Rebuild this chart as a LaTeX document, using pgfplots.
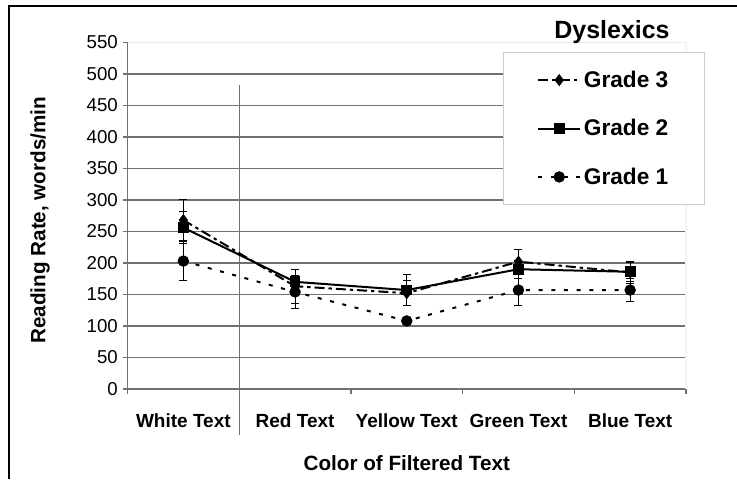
\documentclass[border=0pt]{standalone}
\usepackage{fontspec}
\setmainfont{Liberation Sans}
\usepackage{pgfplots}
\pgfplotsset{compat=1.18}
\usepackage{pgfplotstable}

\definecolor{gridc}{RGB}{112,112,112}

\pgfplotstableread{
x y e
0.5 268 33
1.5 163 27
2.5 152 20
3.5 202 20
4.5 185 17
}\gradethree
\pgfplotstableread{
x y e
0.5 256 25
1.5 170 20
2.5 157 25
3.5 190 14
4.5 186 15
}\gradetwo
\pgfplotstableread{
x y e
0.5 203 31
1.5 154 26
2.5 108 6
3.5 157 25
4.5 157 18
}\gradeone

\begin{document}
\begin{tikzpicture}
\useasboundingbox (0,0) rectangle (552.75pt,359.25pt);
\draw[line width=1.5pt] (6.4pt,0pt) -- (6.4pt,354.4pt) -- (552.75pt,354.4pt);
\begin{axis}[
  at={(95.625pt,67.5pt)}, anchor=south west,
  scale only axis, width=418.875pt, height=260pt,
  xmin=0, xmax=5, ymin=0, ymax=550,
  clip=false,
  axis x line*=bottom, axis y line*=left,
  axis line style={gridc, line width=1.3pt},
  xtick={0.5,1.5,2.5,3.5,4.5},
  xticklabels={White Text, Red Text, Yellow Text, Green Text, Blue Text},
  minor xtick={0,1,2,3,4,5},
  major x tick style={draw=none},
  minor x tick style={gridc, line width=1pt},
  ytick={0,50,...,500},
  extra y ticks={550},
  extra y tick style={grid style={gray!15, line width=1.2pt}},
  y tick style={gridc, line width=1pt},
  tick align=outside,
  major tick length=3.75pt, minor tick length=3.75pt,
  ymajorgrids=true,
  grid style={gridc, line width=1.3pt},
  /pgf/number format/assume math mode=true,
  yticklabel style={font=\fontsize{14}{16}\selectfont},
  xticklabel style={font=\bfseries\fontsize{14.25}{16}\selectfont, text height=10.5pt, text depth=0pt, yshift=-11pt},
  xlabel={Color of Filtered Text},
  ylabel={Reading Rate, words/min},
  xlabel style={font=\bfseries\fontsize{15.5}{17}\selectfont, at={(axis description cs:0.5,-0.2134)}, anchor=center},
  ylabel style={font=\bfseries\fontsize{15.5}{17}\selectfont, at={(axis description cs:-0.1567,0.487)}, anchor=center},
  legend style={at={(axis description cs:0.673,0.973)}, anchor=north west,
    draw=gray!40, line width=0.8pt, fill=white,
    font=\bfseries\fontsize{17}{19}\selectfont,
    inner xsep=25pt, inner ysep=12pt, row sep=18.5pt,
    nodes={inner sep=2pt},
    /tikz/every even column/.append style={column sep=2pt}},
  legend cell align=left,
  legend image code/.code={\draw[mark repeat=2,mark phase=2] plot coordinates {(0pt,0pt) (15.75pt,0pt) (31.5pt,0pt)};},
  error bars/error bar style={black, line width=0.8pt, solid},
  error bars/error mark options={rotate=90, mark size=3pt, line width=0.8pt, solid},
]
\draw[gridc, line width=0.9pt] (axis cs:1,482) -- (axis cs:1,-73);
\draw[gray!8, line width=1pt] (rel axis cs:1,0) -- (rel axis cs:1,1);
\addplot[black, line width=1.5pt, dash pattern=on 7.5pt off 3pt on 2.5pt off 3pt,
  mark=diamond*, mark size=3.4pt, mark options={solid},
  error bars/.cd, y dir=both, y explicit]
  table[x=x, y=y, y error=e] {\gradethree};
\addlegendentry{Grade 3}
\addplot[black, line width=1.5pt, solid,
  mark=square*, mark size=3.3pt, mark options={solid},
  error bars/.cd, y dir=both, y explicit]
  table[x=x, y=y, y error=e] {\gradetwo};
\addlegendentry{Grade 2}
\addplot[black, line width=1.5pt, dash pattern=on 3pt off 6.5pt,
  mark=*, mark size=3.5pt, mark options={solid},
  error bars/.cd, y dir=both, y explicit]
  table[x=x, y=y, y error=e] {\gradeone};
\addlegendentry{Grade 1}
\end{axis}
\node[font=\bfseries\fontsize{18.7}{20}\selectfont] at (459pt,335.5pt) {Dyslexics};
\end{tikzpicture}
\end{document}
